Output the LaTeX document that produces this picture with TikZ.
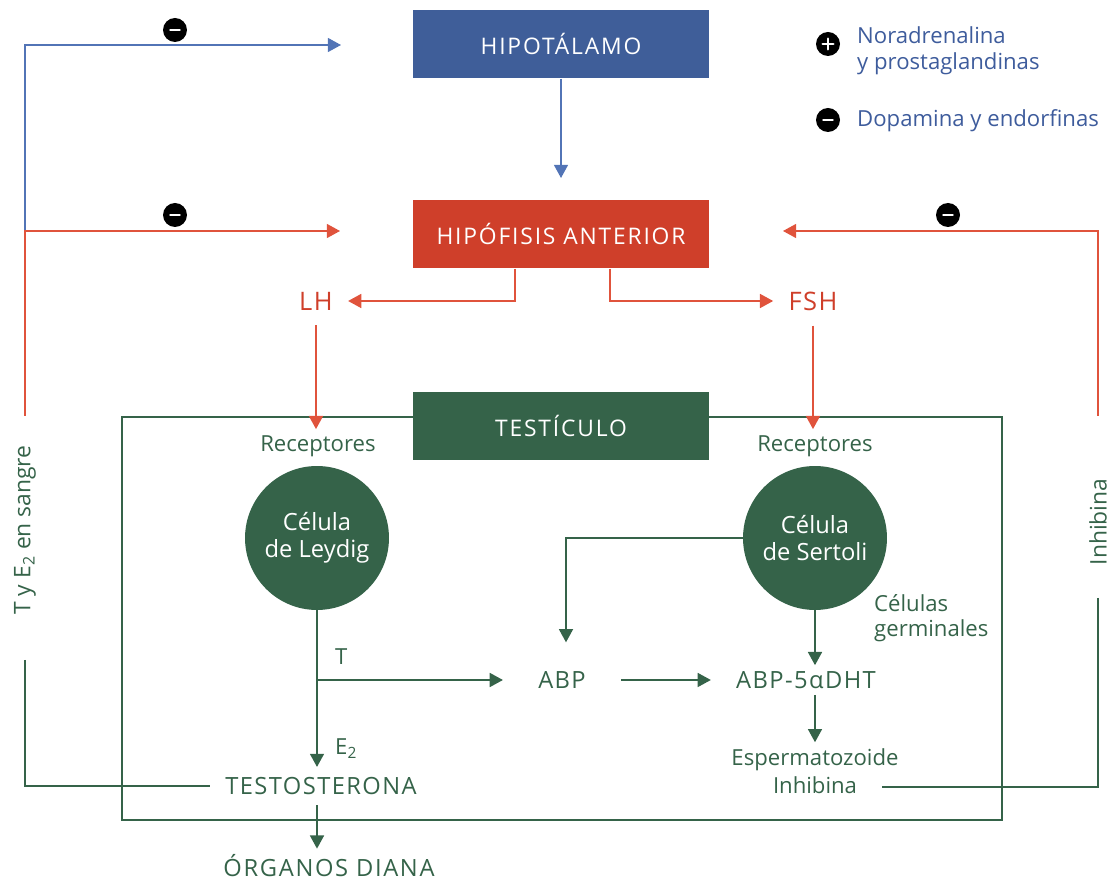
\documentclass[tikz,border=0pt]{standalone}
\usepackage{fontspec}
\setmainfont{Open Sans}
\usetikzlibrary{arrows.meta}
\definecolor{hipoBlue}{HTML}{3F5E99}
\definecolor{lineBlue}{HTML}{5274B6}
\definecolor{textBlue}{HTML}{3E5C9C}
\definecolor{hipoRed}{HTML}{CF3F2A}
\definecolor{lineRed}{HTML}{E0533C}
\definecolor{testGreen}{HTML}{356349}

\begin{document}
\begin{tikzpicture}[x=0.02cm,y=-0.02cm,
        font=\fontsize{12.6}{15}\selectfont,
        >={Triangle[length=7.5pt,width=8pt]},
        headBox/.style = {minimum width=5.94cm,minimum height=1.37cm,text=white,font=\fontsize{13}{15}\selectfont\addfontfeature{LetterSpace=8}},
        blueBox/.style = {headBox,fill=hipoBlue},
        redBox/.style = {headBox,fill=hipoRed},
        greenBox/.style = {headBox,fill=testGreen},
        cellNode/.style = {shape=circle,fill=testGreen,text=white,minimum size=2.88cm,align=center,font=\fontsize{13.5}{15.5}\selectfont},
        hormone/.style = {text=hipoRed,font=\fontsize{14.5}{15}\selectfont\addfontfeature{LetterSpace=6},inner sep=0.3cm},
        greenText/.style = {text=testGreen,align=center},
        bigGreen/.style = {greenText,font=\fontsize{13.5}{15}\selectfont\addfontfeature{LetterSpace=6}},
        blueLine/.style = {draw=lineBlue,line width=0.8pt},
        redLine/.style = {draw=lineRed,line width=0.8pt},
        greenLine/.style = {draw=testGreen,line width=0.8pt},
        signNode/.style = {shape=circle,fill=black,minimum size=0.48cm,inner sep=0pt},
        minusSign/.style = {signNode,path picture={\draw[white,line width=1.6pt,line cap=round] ([xshift=-2.6pt]path picture bounding box.center) -- ([xshift=2.6pt]path picture bounding box.center);}},
        plusSign/.style = {signNode,path picture={\draw[white,line width=1.5pt,line cap=round] ([xshift=-3pt]path picture bounding box.center) -- ([xshift=3pt]path picture bounding box.center) ([yshift=-3pt]path picture bounding box.center) -- ([yshift=3pt]path picture bounding box.center);}}
        ]
        \useasboundingbox (0,0) rectangle (1110,881);

        % main boxes
        \node[blueBox] (hipotalamo) at (561,44) {HIPOTÁLAMO};
        \node[redBox] (hipofisis) at (561,234) {HIPÓFISIS ANTERIOR};
        \node[hormone] (lh) at (316,301) {LH};
        \node[hormone] (fsh) at (813,301) {FSH};

        % testiculo
        \draw[greenLine] (122,417) rectangle (1002,820);
        \node[greenBox] (testiculo) at (561,426) {TESTÍCULO};
        \node[greenText,inner sep=0.12cm] (recepL) at (318,446) {Receptores};
        \node[greenText,inner sep=0.12cm] (recepR) at (815,446) {Receptores};
        \node[cellNode] (leydig) at (317,538) {Célula\\de Leydig};
        \node[cellNode] (sertoli) at (815,538) {Célula\\de Sertoli};
        \node[greenText,align=left,anchor=west,font=\fontsize{12.6}{14.5}\selectfont] (germinal) at (868,618) {Células\\germinales};
        \node[bigGreen,inner xsep=0.7cm] (abp) at (562,680) {ABP};
        \node[bigGreen,inner xsep=0.5cm] (dht) at (806,680) {ABP-5αDHT};
        \node[greenText,font=\fontsize{12.6}{16}\selectfont] (esperm) at (815,771) {Espermatozoide\\Inhibina};
        \node[greenText,anchor=south west] (tLabel) at (329,671) {T};
        \node[greenText,anchor=south west] (eLabel) at (329,765) {E\textsubscript{2}};
        \node[bigGreen,inner xsep=0.3cm,inner ysep=0.2cm] (testo) at (321,786) {TESTOSTERONA};
        \node[bigGreen,font=\fontsize{13.5}{15}\selectfont\addfontfeature{LetterSpace=7}] (organos) at (329,866) {ÓRGANOS DIANA};

        % side labels
        \node[greenText,rotate=90,font=\fontsize{13}{15}\selectfont] (sangre) at (25,530) {T y E\textsubscript{2} en sangre};
        \node[greenText,rotate=90,font=\fontsize{13}{15}\selectfont] (inhibina) at (1098,522) {Inhibina};

        % legend
        \node[plusSign] (plusLeg) at (828,44) {};
        \node[minusSign] (minusLeg) at (828,120) {};
        \node[anchor=west,text=textBlue,align=left] (noradr) at (851,51) {Noradrenalina\\y prostaglandinas};
        \node[anchor=west,text=textBlue] (dopa) at (851,121) {Dopamina y endorfinas};

        % feedback signs
        \node[minusSign] (minusTop) at (175,30) {};
        \node[minusSign] (minusLeft) at (175,215) {};
        \node[minusSign] (minusRight) at (948,215) {};

        \coordinate (sangreTop) at (25,416);
        \coordinate (sangreBot) at (25,660);
        \coordinate (leftJoin) at (25,231);
        \coordinate (hipoIn) at (341,45);
        \coordinate (hipofIn) at (340,231);
        \coordinate (inhTop) at (1098,416);
        \coordinate (inhBot) at (1098,598);
        \coordinate (hipofInR) at (783,231);
        \coordinate (inhEnd) at (882,787);
        \coordinate (tBranch) at (317,680);

        % hormone arrows
        \draw[blueLine,->] (hipotalamo) -- (hipotalamo |- 0,178);
        \draw[redLine,->] ([xshift=-0.92cm]hipofisis.south) |- (lh.east);
        \draw[redLine,->] ([xshift=0.98cm]hipofisis.south) |- (fsh.west);
        \draw[redLine,->] (lh.south) -- (lh.south |- recepL.north);
        \draw[redLine,->] (fsh.south) -- (fsh.south |- recepR.north);

        % feedback loops
        \draw[blueLine,->] (leftJoin) |- (hipoIn);
        \draw[redLine,->] (sangreTop) |- (hipofIn);
        \draw[greenLine] (sangreBot) |- (testo.west);
        \draw[redLine,->] (inhTop) |- (hipofInR);
        \draw[greenLine] (inhBot) |- (inhEnd);

        % inside testiculo
        \draw[greenLine,->] (leydig.south) -- (leydig.south |- testo.north);
        \draw[greenLine,->] (tBranch) -- (tBranch -| abp.west);
        \draw[greenLine,->] (sertoli.west) -| ([xshift=0.08cm,yshift=0.46cm]abp.north);
        \draw[greenLine,->] (abp.east) -- (dht.west);
        \draw[greenLine,->] (sertoli.south) -- (sertoli.south |- dht.north);
        \draw[greenLine,->] (esperm.north |- dht.south) -- (esperm.north);
        \draw[greenLine,->] (leydig.south |- testo.south) -- (leydig.south |- organos.north);
    \end{tikzpicture}
\end{document}
